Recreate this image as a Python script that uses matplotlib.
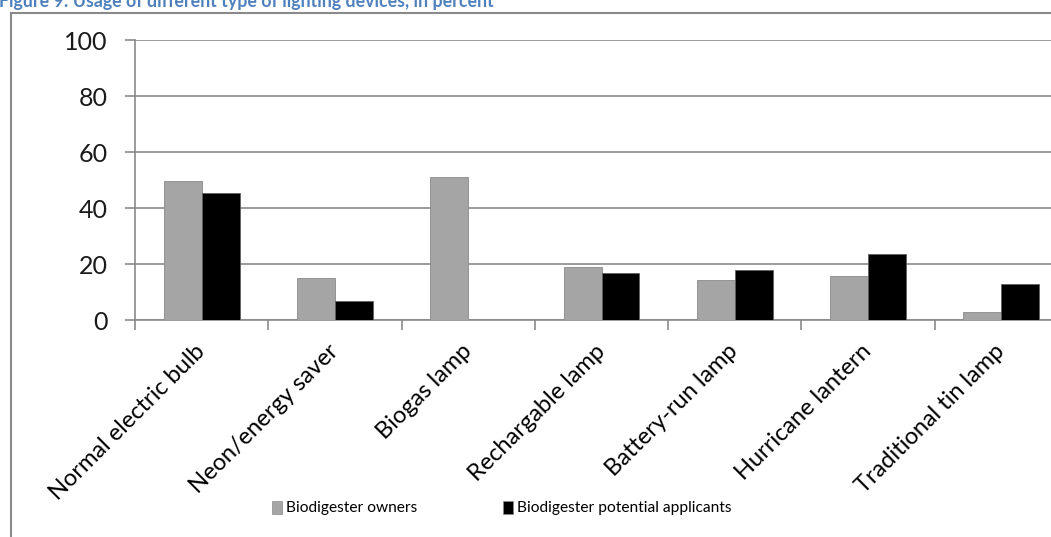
import matplotlib
matplotlib.use("Agg")
import matplotlib.pyplot as plt
import numpy as np
from matplotlib.lines import Line2D
from matplotlib.patches import Rectangle

# share of households using each lighting device, in percent
devices = ["Normal electric bulb", "Neon/energy saver", "Biogas lamp",
           "Rechargable lamp", "Battery-run lamp", "Hurricane lantern",
           "Traditional tin lamp"]
owners = [49.6, 15.1, 51.2, 18.8, 14.2, 15.6, 2.8]
applicants = [45.5, 6.7, 0, 16.9, 18.0, 23.7, 12.8]
series_names = ["Biodigester owners", "Biodigester potential applicants"]
y_ticks = [0, 20, 40, 60, 80, 100]

plt.rcParams['font.family'] = ['Lato', 'DejaVu Sans']

W, H = 1051, 537
fig = plt.figure(figsize=(W / 100, H / 100), dpi=100)

# axes run past the right edge, like the cropped original figure
ax = fig.add_axes([135 / W, 1 - 320 / H, (1068 - 135) / W, 280 / H])

x = np.arange(len(devices))
bar_w = 0.285
ax.bar(x - bar_w / 2, owners, bar_w, color='#a5a5a5', edgecolor='#8a8a8a',
       linewidth=0.6, zorder=3)
ax.bar(x + bar_w / 2, applicants, bar_w, color='black', edgecolor='#606060',
       linewidth=0.6, zorder=3)

ax.set_xlim(-0.5, len(devices) - 0.5)
ax.set_ylim(0, 100)
ax.set_yticks(y_ticks)
ax.tick_params(axis='y', labelsize=18, colors='#8a8a8a', labelcolor='#1a1a1a',
               length=7, width=1.2, pad=12.5)
ax.yaxis.grid(True, color='#8a8a8a', linewidth=1.2, zorder=0)

# category labels at the centres, tick marks at the boundaries
ax.set_xticks(x)
ax.set_xticklabels(devices, rotation=45, ha='right', va='center',
                   rotation_mode='anchor', fontsize=17)
ax.tick_params(axis='x', length=0, pad=20)
ax.set_xticks(np.arange(len(devices) + 1) - 0.5, minor=True)
ax.tick_params(axis='x', which='minor', length=7, width=1.2, colors='#8a8a8a')

for side in ['top', 'right']:
    ax.spines[side].set_visible(False)
for side in ['left', 'bottom']:
    ax.spines[side].set_color('#8a8a8a')
    ax.spines[side].set_linewidth(1.2)

# legend drawn below the labels
for xs, col, name in [(272, '#a5a5a5', series_names[0]),
                      (503, 'black', series_names[1])]:
    fig.patches.append(Rectangle((xs / W, 1 - 514 / H), 10 / W, 13 / H,
                                 transform=fig.transFigure, facecolor=col,
                                 edgecolor='#8a8a8a', linewidth=0.5))
    fig.text((xs + 14) / W, 1 - 508 / H, name, fontsize=11.2,
             va='center', ha='left')

# outer chart frame
fig.lines.append(Line2D([11 / W, 11 / W], [0, 1 - 13 / H],
                        transform=fig.transFigure, color='#8a8a8a', linewidth=1.5))
fig.lines.append(Line2D([11 / W, 1], [1 - 13 / H, 1 - 13 / H],
                        transform=fig.transFigure, color='#8a8a8a', linewidth=1.5))

fig.text(-1 / W, 1 - 6.5 / H,
         "Figure 9: Usage of different type of lighting devices, in percent",
         color='#4f81bd', fontweight='bold', fontsize=12.8, va='baseline', ha='left')

fig.savefig("out.png", dpi=100)
